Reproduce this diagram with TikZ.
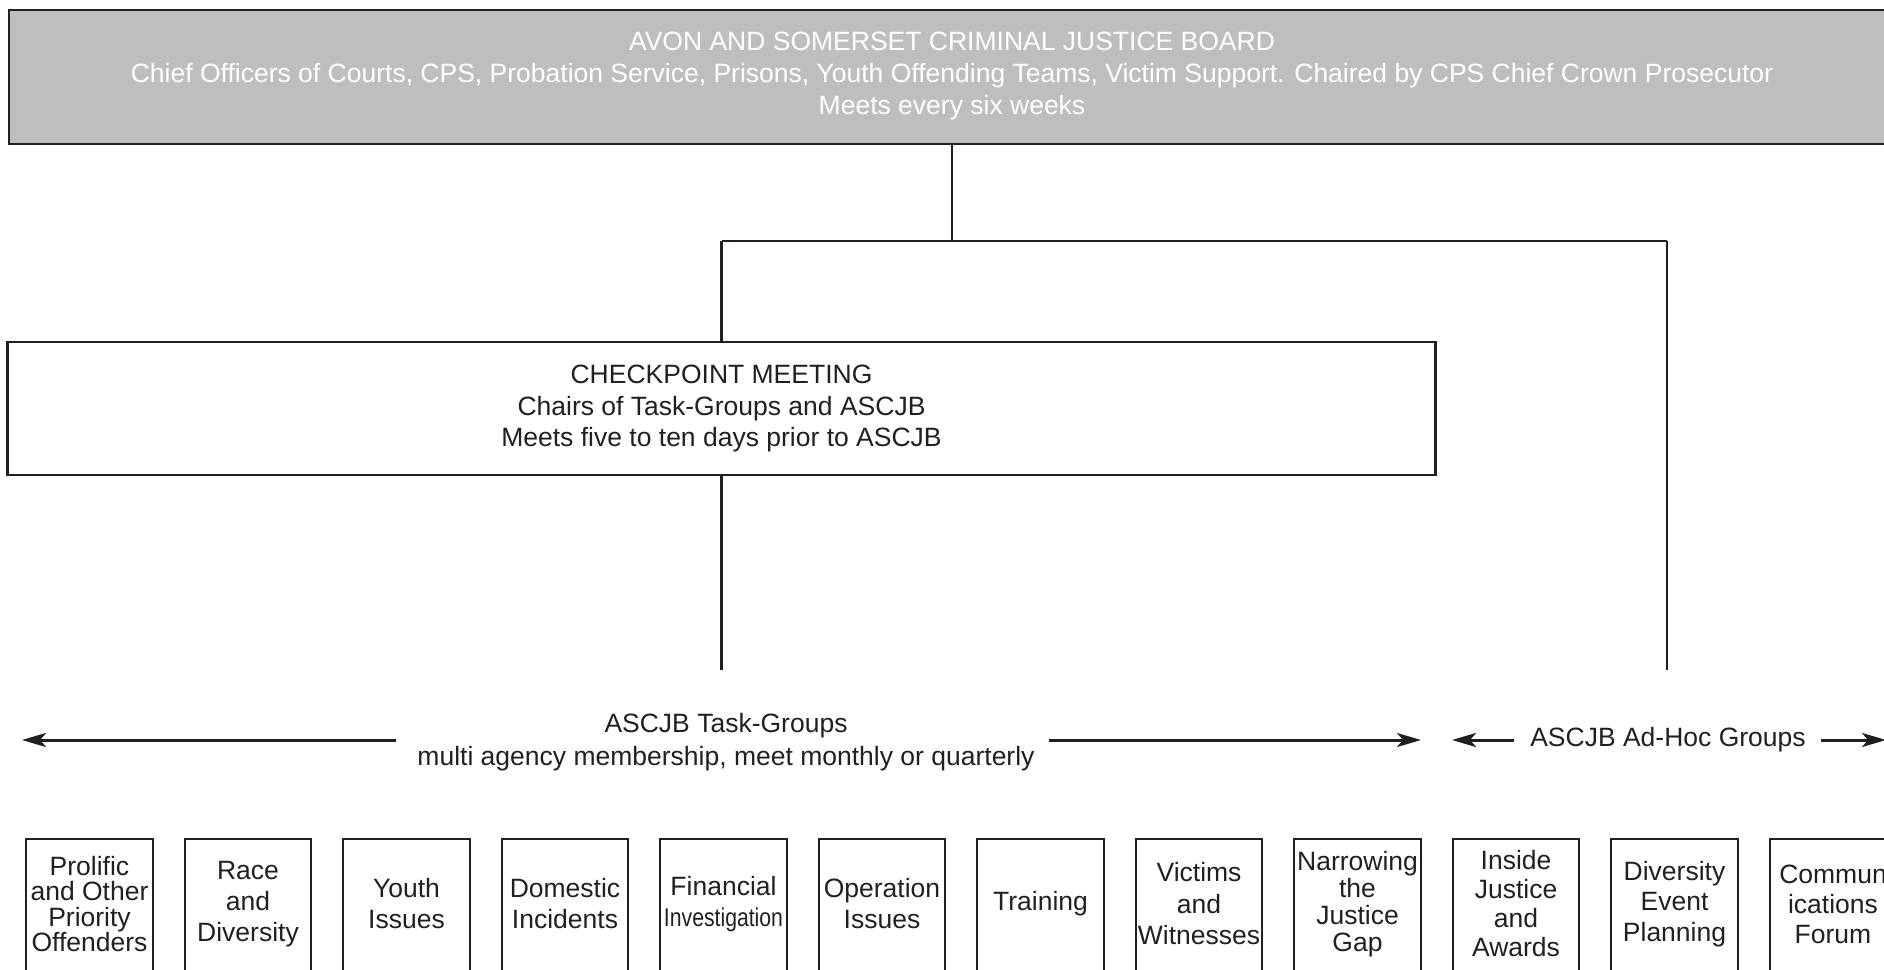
\documentclass[tikz,border=0pt]{standalone}
\usepackage{fontspec}
\setmainfont{Liberation Sans}
\usetikzlibrary{arrows.meta}
\definecolor{ink}{HTML}{231F20}
\definecolor{boardgray}{HTML}{BCBEC0}
\newcommand\grp[4]{%
  \node[groupcell, font=\fontsize{26.5}{#4}\selectfont] (#1) at (#2,904) {#3};
  \draw[groupbox] ([yshift=-40pt]#1.south west) -- (#1.north west) -- (#1.north east) -- ([yshift=-40pt]#1.south east);}
\begin{document}
\begin{tikzpicture}[x=1pt,y=-1pt,
  every node/.style={inner sep=0pt, text=ink, align=center, font=\fontsize{26.5}{31}\selectfont},
  conn/.style={draw=ink, line width=2.4pt},
  mainbox/.style={draw=ink, line width=2.4pt},
  groupcell/.style={minimum width=126pt, minimum height=130pt},
  groupbox/.style={draw=ink, line width=2.2pt},
  span/.style={draw=ink, line width=3pt, -{Stealth[length=24pt,width=14pt,inset=6pt]}},
]
\useasboundingbox (0,0) rectangle (1884,969);
\clip (0,0) rectangle (1884,969);

% Board
\node[mainbox, fill=boardgray, minimum width=1886pt, minimum height=134pt] (board) at (952,77) {};
\node[text=white, font=\fontsize{26.5}{32.4}\selectfont] (boardtxt) at (952,76)
  {AVON AND SOMERSET CRIMINAL JUSTICE BOARD\\
   Chief Officers of Courts, CPS, Probation Service, Prisons, Youth Offending Teams, Victim Support. Chaired by CPS Chief Crown Prosecutor\\
   Meets every six weeks};

% Checkpoint
\node[mainbox, minimum width=1428pt, minimum height=133pt, font=\fontsize{26.5}{31.5}\selectfont] (check) at (721.5,408.5)
  {CHECKPOINT MEETING\\Chairs of Task-Groups and ASCJB\\Meets five to ten days prior to ASCJB};

% Junctions
\coordinate (j1) at (952,241);
\coordinate (jl) at (721.5,241);
\coordinate (jr) at (1667,241);
\coordinate (tgtop) at (721.5,670);
\coordinate (adtop) at (1667,670);

\draw[conn] (board.south) -- (j1);
\draw[conn] (jl) -- (jr);
\draw[conn] (jl) -- (check.north);
\draw[conn] (check.south) -- (tgtop);
\draw[conn] (jr) -- (adtop);

% Span labels
\node[font=\fontsize{26.5}{33}\selectfont] (tg) at (726,742)
  {ASCJB Task-Groups\\multi agency membership, meet monthly or quarterly};
\node (ah) at (1668,740) {ASCJB Ad-Hoc Groups};

\coordinate (tgL0) at (396,740);  \coordinate (tgL1) at (22,740);
\coordinate (tgR0) at (1049,740); \coordinate (tgR1) at (1421,740);
\coordinate (ahL0) at (1514,740); \coordinate (ahL1) at (1452,740);
\coordinate (ahR0) at (1821,740); \coordinate (ahR1) at (1886,740);
\draw[span] (tgL0) -- (tgL1);
\draw[span] (tgR0) -- (tgR1);
\draw[span] (ahL0) -- (ahL1);
\draw[span] (ahR0) -- (ahR1);

% Groups
\grp{g1}{89.5}{Prolific\\and Other\\Priority\\Offenders}{25.6}
\grp{g2}{248}{Race\\and\\Diversity}{31}
\grp{g3}{406.5}{Youth\\Issues}{31}
\grp{g4}{565}{Domestic\\Incidents}{31}
\grp{g5}{723.5}{Financial\\\scalebox{0.8}[0.97]{Investigation}}{31}
\grp{g6}{882}{Operation\\Issues}{31}
\grp{g7}{1040.5}{Training}{31}
\grp{g8}{1199}{Victims\\and\\Witnesses}{31.5}
\grp{g9}{1357.5}{Narrowing\\the\\Justice\\Gap}{26.8}
\grp{g10}{1516}{Inside\\Justice\\and\\Awards}{29}
\grp{g11}{1674.5}{Diversity\\Event\\Planning}{30.6}
\grp{g12}{1833}{Commun\\ications\\Forum}{30}
\end{tikzpicture}
\end{document}
